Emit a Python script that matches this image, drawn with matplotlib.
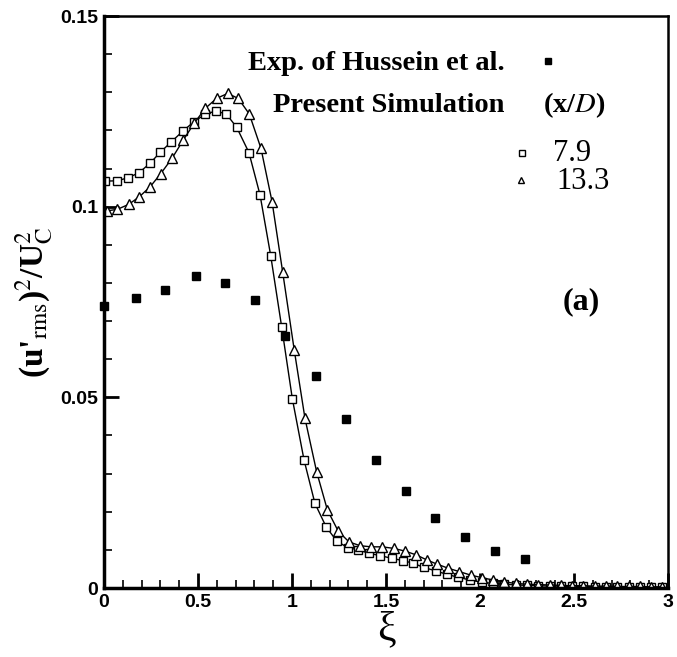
import matplotlib
matplotlib.use('Agg')
from matplotlib import pyplot as plt
from matplotlib.ticker import MultipleLocator

# data
xi_exp = [0.0, 0.17, 0.326, 0.488, 0.644, 0.803, 0.963, 1.126, 1.287, 1.447, 1.605, 1.76, 1.92, 2.08, 2.24]
u_exp = [0.0740, 0.0760, 0.0782, 0.0818, 0.0801, 0.0755, 0.0662, 0.0557, 0.0442, 0.0336, 0.0255, 0.0183,
         0.0135, 0.0098, 0.0075]

xi_79 = [0.005, 0.071, 0.129, 0.186, 0.245, 0.300, 0.358, 0.419, 0.479, 0.537, 0.594, 0.651, 0.706,
         0.771, 0.830, 0.887, 0.945, 1.002, 1.064, 1.122, 1.181, 1.238, 1.296, 1.353, 1.411, 1.468,
         1.530, 1.589, 1.645, 1.700, 1.764, 1.823, 1.885, 1.947, 2.010, 2.070, 2.130, 2.190, 2.250,
         2.310, 2.370, 2.430, 2.490, 2.550, 2.610, 2.670, 2.730, 2.790, 2.850, 2.910, 2.970]
u_79 = [0.1067, 0.1068, 0.1076, 0.1089, 0.1114, 0.1143, 0.1170, 0.1198, 0.1223, 0.1242, 0.1251,
        0.1243, 0.1208, 0.1142, 0.1031, 0.0871, 0.0685, 0.0496, 0.0336, 0.0222, 0.0161, 0.0123,
        0.0106, 0.0100, 0.0091, 0.0085, 0.0078, 0.0072, 0.0065, 0.0054, 0.0045, 0.0036, 0.0028,
        0.0021, 0.0015, 0.0012, 0.0010, 0.0008, 0.0007, 0.0006, 0.0005, 0.0005, 0.0004, 0.0004,
        0.0003, 0.0003, 0.0003, 0.0002, 0.0002, 0.0002, 0.0002]

xi_133 = [0.014, 0.071, 0.131, 0.188, 0.245, 0.301, 0.362, 0.422, 0.480, 0.539, 0.599, 0.658, 0.714,
          0.773, 0.835, 0.894, 0.950, 1.012, 1.069, 1.131, 1.188, 1.246, 1.303, 1.362, 1.420, 1.480,
          1.540, 1.600, 1.660, 1.720, 1.770, 1.830, 1.890, 1.950, 2.010, 2.070, 2.130, 2.190, 2.250,
          2.310, 2.370, 2.430, 2.490, 2.550, 2.610, 2.670, 2.730, 2.790, 2.850, 2.910, 2.970]
u_133 = [0.0989, 0.0993, 0.1006, 0.1026, 0.1052, 0.1086, 0.1127, 0.1175, 0.1219, 0.1258, 0.1284,
         0.1297, 0.1284, 0.1243, 0.1153, 0.1013, 0.0830, 0.0624, 0.0445, 0.0305, 0.0205, 0.0149,
         0.0121, 0.0111, 0.0108, 0.0108, 0.0104, 0.0097, 0.0087, 0.0073, 0.0063, 0.0052, 0.0043,
         0.0034, 0.0027, 0.0021, 0.0016, 0.0012, 0.0010, 0.0009, 0.0008, 0.0007, 0.0006, 0.0006,
         0.0005, 0.0005, 0.0004, 0.0004, 0.0004, 0.0003, 0.0003]

serif = 'Liberation Serif'
sans = 'Liberation Sans'
plt.rcParams['mathtext.fontset'] = 'stix'

fig = plt.figure(figsize=(6.77, 6.57), dpi=100)
ax = fig.add_axes([0.1536, 0.105, 0.8331, 0.8706])

ax.plot(xi_79, u_79, '-', color='black', lw=1.0, marker='s', ms=5.5, mfc='white', mec='black', mew=1.0)
ax.plot(xi_133, u_133, '-', color='black', lw=1.0, marker='^', ms=6.5, mfc='white', mec='black', mew=1.0)
ax.plot(xi_exp, u_exp, 's', color='black', ms=6, clip_on=False, zorder=5)

ax.set_xlim(0, 3)
ax.set_ylim(0, 0.15)
ax.xaxis.set_major_locator(MultipleLocator(0.5))
ax.xaxis.set_minor_locator(MultipleLocator(0.1))
ax.yaxis.set_major_locator(MultipleLocator(0.05))
ax.yaxis.set_minor_locator(MultipleLocator(0.01))
ax.set_xticks([0, 0.5, 1, 1.5, 2, 2.5, 3])
ax.set_xticklabels(['0', '0.5', '1', '1.5', '2', '2.5', '3'])
ax.set_yticks([0, 0.05, 0.1, 0.15])
ax.set_yticklabels(['0', '0.05', '0.1', '0.15'])
ax.tick_params(which='major', direction='in', length=11, width=2, top=False, right=False, pad=4)
ax.tick_params(which='minor', direction='in', length=6, width=1.2, top=False, right=False)
for lab in ax.get_xticklabels() + ax.get_yticklabels():
    lab.set_fontfamily(sans)
    lab.set_fontweight('bold')
    lab.set_fontsize(14)
ax.spines['left'].set_linewidth(2.5)
ax.spines['bottom'].set_linewidth(2.5)
ax.spines['top'].set_linewidth(1.8)
ax.spines['right'].set_linewidth(1.8)

ax.set_xlabel('\u03be', fontsize=30, family=serif, labelpad=0)
ax.set_ylabel(r"(u'$_{\rm rms}$)$^{2}$/U$_{\rm C}^{2}$", fontsize=24, family=serif, fontweight='bold', labelpad=4)

# legend drawn as text
tr = ax.transAxes
def ax_frac(px, py):
    return ((px - 104) / 564.0, (588 - py) / 572.0)

ax.text(*ax_frac(248, 63), 'Exp. of Hussein et al.', transform=tr, family=serif, fontweight='bold',
        fontsize=20.5, va='center', ha='left')
ax.plot(*ax_frac(548, 61), 's', color='black', ms=5, transform=tr, clip_on=False)
ax.text(*ax_frac(273, 105), 'Present Simulation', transform=tr, family=serif, fontweight='bold',
        fontsize=20.5, va='center', ha='left')
ax.text(*ax_frac(543, 105), '(x/$\\it{D}$)', transform=tr, family=serif, fontweight='bold',
        fontsize=20.5, va='center', ha='left')
ax.plot(*ax_frac(522, 153), 's', ms=5, mfc='white', mec='black', mew=1.0, transform=tr, clip_on=False)
ax.text(*ax_frac(553, 153), '7.9', transform=tr, family=serif, fontsize=22, va='center', ha='left')
ax.plot(*ax_frac(521, 180), '^', ms=5, mfc='white', mec='black', mew=1.0, transform=tr, clip_on=False)
ax.text(*ax_frac(556, 181), '13.3', transform=tr, family=serif, fontsize=22, va='center', ha='left')

ax.text(2.44, 0.075, '(a)', family=serif, fontweight='bold', fontsize=23, va='center', ha='left')

fig.savefig('out.png', dpi=100)
